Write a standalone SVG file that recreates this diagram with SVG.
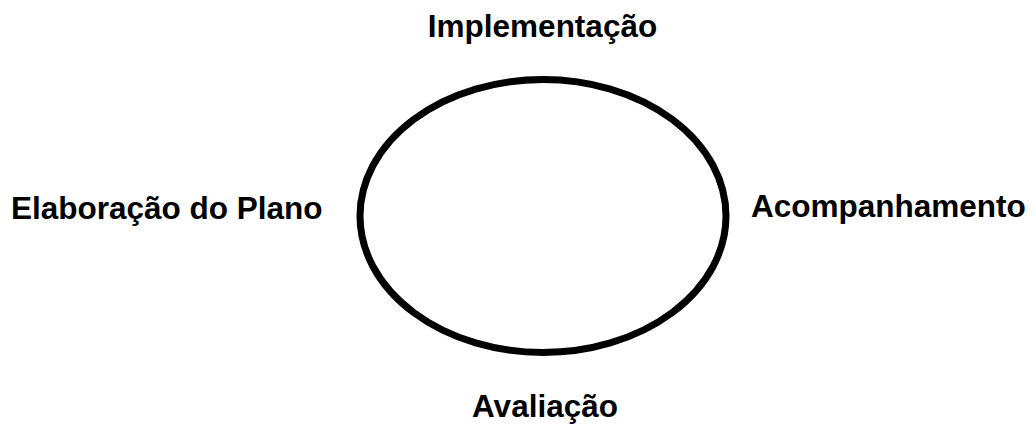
<svg xmlns="http://www.w3.org/2000/svg" width="1034" height="425" viewBox="0 0 1034 425">
<style>
.lbl{font-family:"Liberation Sans",Arial,sans-serif;font-weight:bold;font-size:31.5px;fill:#000}
</style>
<rect width="1034" height="425" fill="#fff"/>
<g id="cycle">
<ellipse cx="543" cy="216" rx="183" ry="136.5" fill="none" stroke="#000" stroke-width="7"/>
</g>
<g id="connectors"></g>
<g id="implementacao"><text class="lbl" x="542.5" y="37" text-anchor="middle">Implementação</text></g>
<g id="elaboracao"><text class="lbl" x="11" y="219">Elaboração do Plano</text></g>
<g id="acompanhamento"><text class="lbl" x="751" y="217">Acompanhamento</text></g>
<g id="avaliacao"><text class="lbl" x="545" y="417" text-anchor="middle">Avaliação</text></g>
</svg>
